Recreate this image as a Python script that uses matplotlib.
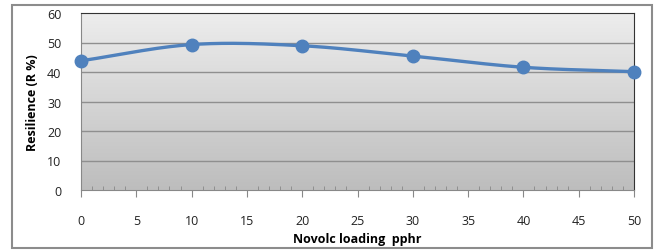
import numpy as np
import matplotlib
matplotlib.use("Agg")
import matplotlib.pyplot as plt
from matplotlib.patches import Rectangle
from matplotlib.ticker import MultipleLocator

loading = [0, 10, 20, 30, 40, 50]
resilience = [43.8, 49.3, 48.9, 45.4, 41.6, 40.1]
x_ticks = [0, 5, 10, 15, 20, 25, 30, 35, 40, 45, 50]
y_ticks = [0, 10, 20, 30, 40, 50, 60]

plt.rcParams['font.family'] = ['Open Sans', 'DejaVu Sans']

def smooth(xs, ys, n=30):
    xs = np.asarray(xs, float); ys = np.asarray(ys, float)
    px = np.concatenate([[2*xs[0]-xs[1]], xs, [2*xs[-1]-xs[-2]]])
    py = np.concatenate([[2*ys[0]-ys[1]], ys, [2*ys[-1]-ys[-2]]])
    ox, oy = [], []
    for i in range(1, len(px)-2):
        t = np.linspace(0, 1, n)
        for arr, out in ((px, ox), (py, oy)):
            p0, p1, p2, p3 = arr[i-1], arr[i], arr[i+1], arr[i+2]
            c1 = p1 + (p2 - p0) / 6
            c2 = p2 - (p3 - p1) / 6
            out.extend((1-t)**3*p1 + 3*(1-t)**2*t*c1 + 3*(1-t)*t**2*c2 + t**3*p2)
    return np.array(ox), np.array(oy)

fig = plt.figure(figsize=(6.55, 2.51), dpi=100)
fig.patch.set_facecolor('white')
fig.patches.append(Rectangle((12/655, 1-249/251), 640/655, 243/251, transform=fig.transFigure,
                             fill=False, edgecolor='#8c8c8c', linewidth=1.5))

ax = fig.add_axes([81/655, 1-191/251, 553/655, 177/251])
ax.set_xlim(0, 50)
ax.set_ylim(0, 60)

grad = np.linspace(0, 1, 256).reshape(-1, 1)
ax.imshow(grad, extent=[0, 50, 0, 60], aspect='auto', origin='upper',
          cmap=matplotlib.colors.LinearSegmentedColormap.from_list('g', ['#ededed', '#bdbdbd']),
          zorder=0)

for y in y_ticks[1:-1]:
    ax.axhline(y, color='#8f8f8f', linewidth=1.0, zorder=1)

sx, sy = smooth(loading, resilience)
ax.plot(sx, sy, color='#4f81bd', linewidth=2.4, zorder=3, clip_on=False)
ax.plot(loading, resilience, 'o', color='#4f81bd', markersize=9, zorder=4, clip_on=False)

ax.set_xticks(x_ticks)
ax.set_yticks(y_ticks)
ax.xaxis.set_minor_locator(MultipleLocator(1))
ax.tick_params(axis='x', which='major', direction='out', length=5, color='#888888',
               labelsize=9, pad=12, labelcolor='#222222')
ax.tick_params(axis='x', which='minor', direction='in', length=3, color='#888888')
ax.tick_params(axis='y', length=0, labelsize=9, pad=14, labelcolor='#222222')

for s in ['left', 'bottom']:
    ax.spines[s].set_color('#888888')
for s in ['top', 'right']:
    ax.spines[s].set_color('#333333')

ax.set_xlabel('Novolc loading  pphr', fontsize=9, fontweight='bold', labelpad=4)
ax.set_ylabel('Resilience (R %)', fontsize=9, fontweight='bold', labelpad=6)

fig.savefig('out.png', dpi=100)
